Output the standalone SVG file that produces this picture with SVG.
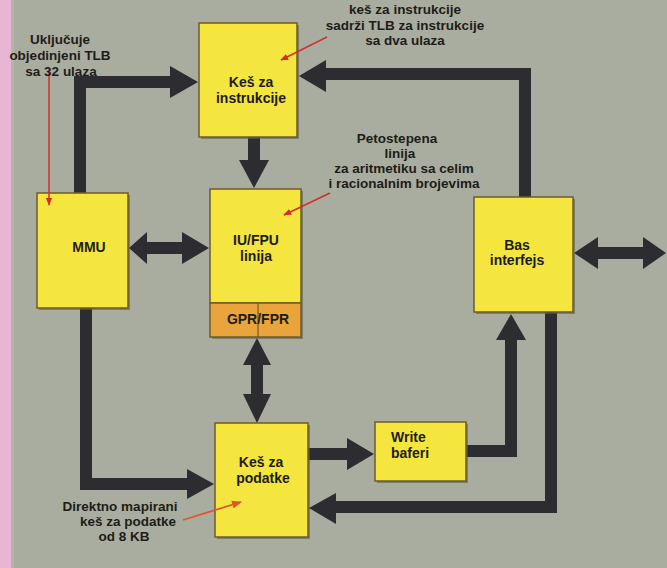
<svg xmlns="http://www.w3.org/2000/svg" width="667" height="568" viewBox="0 0 667 568">
<defs>
<style>
.box{fill:#f4e63e;stroke:#6f5a2a;stroke-width:1.5}
.band{fill:#e9a53c;stroke:#6f5a2a;stroke-width:1.5}
.sh{fill:#5f604f;opacity:0.6}
.lbl{font-family:"Liberation Sans",Arial,sans-serif;font-weight:bold;font-size:14px;fill:#1e1c18;text-anchor:middle}
.ann{font-family:"Liberation Sans",Arial,sans-serif;font-weight:bold;font-size:13.5px;fill:#1e1c18;text-anchor:middle}
.bus{fill:none;stroke:#2c2c31;stroke-width:12;stroke-linejoin:miter}
.head{fill:#2c2c31}
.red{fill:none;stroke:#d0302a;stroke-width:1.5}
.org{fill:none;stroke:#e0552a;stroke-width:1.8}
</style>
<marker id="rh" viewBox="0 0 10 10" refX="9" refY="5" markerWidth="8" markerHeight="8" orient="auto" markerUnits="userSpaceOnUse">
<path d="M0,1 L10,5 L0,9 Z" fill="#d0302a"/>
</marker>
<marker id="oh" viewBox="0 0 10 10" refX="9" refY="5" markerWidth="10" markerHeight="10" orient="auto" markerUnits="userSpaceOnUse">
<path d="M0,1 L10,5 L0,9 Z" fill="#e0552a"/>
</marker>
</defs>
<rect x="0" y="0" width="667" height="568" fill="#a8ad9f"/>
<rect x="0" y="0" width="11" height="568" fill="#e6b6d2"/>
<rect x="11" y="0" width="3" height="568" fill="#b7b5ab"/>

<g id="connectors">
<!-- MMU -> instruction cache -->
<path class="bus" d="M80 193 V82 H172"/>
<polygon class="head" points="198,82 170,66 170,98"/>
<!-- Bas interfejs -> instruction cache -->
<path class="bus" d="M525 197 V74 H324"/>
<polygon class="head" points="299,76 326,60 326,92"/>
<!-- instruction cache -> IU/FPU -->
<path class="bus" d="M254 137 V162"/>
<polygon class="head" points="254,188 239,160 269,160"/>
<!-- MMU <-> IU/FPU -->
<path class="bus" d="M145 248 H184"/>
<polygon class="head" points="129,248 147,232 147,264"/>
<polygon class="head" points="209,248 182,232 182,264"/>
<!-- IU/FPU <-> data cache -->
<path class="bus" d="M257 362 V397"/>
<polygon class="head" points="257,338 243,365 271,365"/>
<polygon class="head" points="257,423 243,394 271,394"/>
<!-- Bas interfejs <-> outside -->
<path class="bus" d="M596 253 H645"/>
<polygon class="head" points="574,253 598,237 598,269"/>
<polygon class="head" points="666,253 643,237 643,269"/>
<!-- MMU -> data cache -->
<path class="bus" d="M86 308 V484 H190"/>
<polygon class="head" points="214,484 187,469 187,499"/>
<!-- data cache -> write buffers -->
<path class="bus" d="M308 454 H349"/>
<polygon class="head" points="374,454 347,438 347,470"/>
<!-- write buffers -> Bas interfejs -->
<path class="bus" d="M466 451 H511 V338"/>
<polygon class="head" points="511,314 496,340 526,340"/>
<!-- Bas interfejs -> data cache -->
<path class="bus" d="M551 312 V507 H334"/>
<polygon class="head" points="309,508 336,493 336,524"/>
</g>

<g id="instr-cache">
<rect class="sh" x="201" y="25" width="98" height="114"/>
<rect class="box" x="199" y="23" width="98" height="114"/>
<text class="lbl" x="251" y="87">Keš za</text>
<text class="lbl" x="251" y="103">instrukcije</text>
</g>

<g id="iu-fpu">
<rect class="sh" x="212" y="191" width="91" height="148"/>
<rect class="box" x="210" y="189" width="91" height="114"/>
<rect class="band" x="210" y="303" width="91" height="34"/>
<line x1="258" y1="303" x2="258" y2="337" stroke="#6f5a2a" stroke-width="1.2"/>
<text class="lbl" x="256" y="245">IU/FPU</text>
<text class="lbl" x="256" y="261">linija</text>
<text class="lbl" x="258" y="324">GPR/FPR</text>
</g>

<g id="mmu">
<rect class="sh" x="39" y="195" width="91" height="115"/>
<rect class="box" x="37" y="193" width="91" height="115"/>
<text class="lbl" x="89" y="252">MMU</text>
</g>

<g id="bas-interfejs">
<rect class="sh" x="476" y="199" width="99" height="115"/>
<rect class="box" x="474" y="197" width="99" height="115"/>
<text class="lbl" x="517" y="250">Bas</text>
<text class="lbl" x="517" y="265">interfejs</text>
</g>

<g id="data-cache">
<rect class="sh" x="217" y="425" width="93" height="114"/>
<rect class="box" x="215" y="423" width="93" height="114"/>
<text class="lbl" x="261" y="467">Keš za</text>
<text class="lbl" x="263" y="483">podatke</text>
</g>

<g id="write-buffers">
<rect class="sh" x="377" y="424" width="91" height="59"/>
<rect class="box" x="375" y="422" width="91" height="59"/>
<text class="lbl" x="391" y="442" style="text-anchor:start">Write</text>
<text class="lbl" x="391" y="458" style="text-anchor:start">baferi</text>
</g>

<g id="annotation-pointers">
<path class="red" d="M49 70 V205" marker-end="url(#rh)"/>
<path class="red" d="M327 37 L281 60" marker-end="url(#rh)"/>
<path class="red" d="M330 193 L284 215" marker-end="url(#rh)"/>
<path class="org" d="M183 520 L241 502" marker-end="url(#oh)"/>
</g>

<g id="note-tlb">
<text class="ann" x="60" y="44">Uključuje</text>
<text class="ann" x="60" y="60">objedinjeni TLB</text>
<text class="ann" x="61" y="76">sa 32 ulaza</text>
</g>

<g id="note-icache">
<text class="ann" x="405" y="14">keš za instrukcije</text>
<text class="ann" x="405" y="30">sadrži TLB za instrukcije</text>
<text class="ann" x="405" y="45">sa dva ulaza</text>
</g>

<g id="note-pipeline">
<text class="ann" x="397" y="143">Petostepena</text>
<text class="ann" x="400" y="158">linija</text>
<text class="ann" x="404" y="173">za aritmetiku sa celim</text>
<text class="ann" x="404" y="188">i racionalnim brojevima</text>
</g>

<g id="note-dcache">
<text class="ann" x="120" y="511">Direktno mapirani</text>
<text class="ann" x="128" y="526">keš za podatke</text>
<text class="ann" x="124" y="541">od 8 KB</text>
</g>
</svg>
